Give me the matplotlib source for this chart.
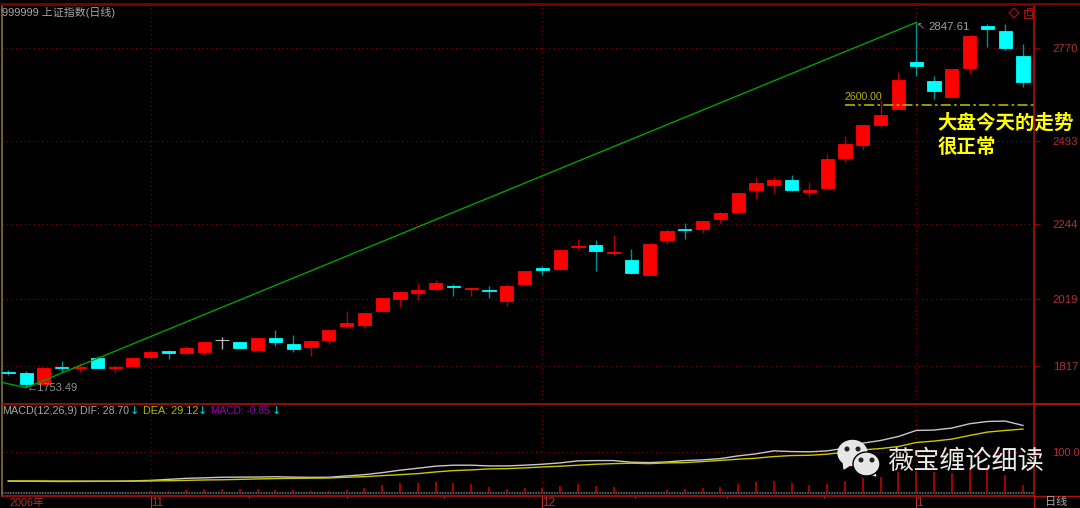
import matplotlib
matplotlib.use("Agg")
import matplotlib.pyplot as plt
from matplotlib.patches import Ellipse, Polygon, Rectangle

plt.rcParams['font.family'] = ['Liberation Sans', 'Noto Sans CJK SC', 'DejaVu Sans']

opens = [1801,1797,1763,1815,1812,1842,1812,1819,1845,1862,1857,1860,1897,1890,1867,1901,1885,1875,1895,1937,
         1940,1983,2018,2036,2050,2058,2049,2046,2012,2063,2112,2109,2175,2180,2158,2137,2090,2195,2230,2230,
         2259,2281,2345,2361,2376,2340,2353,2442,2481,2540,2589,2730,2671,2624,2712,2837,2821,2746]
closes = [1798,1764,1811,1812,1816,1813,1816,1842,1861,1858,1871,1890,1897,1873,1901,1889,1870,1892,1927,1947,
          1976,2022,2041,2046,2068,2055,2052,2043,2059,2102,2106,2167,2178,2163,2161,2098,2185,2223,2227,2252,
          2277,2336,2368,2375,2347,2346,2438,2483,2539,2569,2676,2717,2642,2708,2808,2827,2771,2669]
highs = [1806,1802,1811,1832,1826,1847,1821,1844,1863,1865,1879,1891,1905,1890,1903,1925,1912,1895,1928,1982,
         1977,2023,2044,2068,2075,2063,2053,2057,2065,2106,2118,2170,2199,2197,2210,2168,2185,2230,2247,2254,
         2279,2338,2384,2384,2390,2370,2454,2508,2540,2615,2700,2847.61,2688,2709,2810,2843,2843,2783]
lows = [1792,1754,1763,1800,1799,1812,1796,1819,1838,1840,1856,1850,1870,1872,1865,1878,1859,1848,1885,1932,
        1932,1982,1994,2017,2047,2028,2028,2022,1999,2063,2092,2107,2166,2103,2151,2094,2090,2184,2200,2218,
        2247,2279,2320,2337,2344,2325,2353,2427,2465,2532,2589,2687,2618,2623,2693,2773,2765,2655]
dif = [28.7,28.4,28.0,27.8,27.9,28.2,28.3,29.2,30.5,33.0,35.5,36.8,38.2,38.5,38.7,39.5,38.5,38.0,38.2,41.4,
       44.6,49.6,55.6,60.5,65.5,68.0,68.0,66.2,66.2,68.0,70.4,73.7,78.6,79.4,79.4,75.4,74.4,76.1,79.4,81.1,
       84.3,91.0,96.0,103.4,101.7,101.0,103.4,110.0,122.5,129.0,138.9,153.8,154.8,159.7,170.4,176.0,177.0,166.2]
dea = [29.12,29.1,29.0,28.8,28.7,28.6,28.5,28.6,29.0,29.7,30.5,31.5,32.0,33.0,34.0,35.0,35.6,36.0,36.4,38.2,
       39.7,42.2,44.6,47.1,51.3,54.6,56.3,58.8,59.5,61.3,63.7,65.5,68.0,70.4,71.9,72.9,71.9,73.7,74.4,76.9,
       79.9,82.8,85.3,89.3,91.8,92.5,95.2,100.2,105.9,109.1,114.1,124.0,127.5,132.4,141.4,149.8,153.8,157.2]
macd = [-0.85,-1,-1,-1,0.5,0.5,0.5,1,5,5,6.6,8,10,8,10,6.6,5.8,3.3,5,6.6,
        12.4,18,25,25,27,25,21,13,10,11.6,10.7,15.7,20.7,15.7,13,-1,0.5,6.6,10,11.6,
        14,22,26.5,29,25,18,22,29,35.5,40,52,54,50,48,55,55,45,18]
trend_x = [-0.354, 1, 51]
trend_y = [1769, 1753.49, 2847.61]
price_ticks = [1817, 2019, 2244, 2493, 2770]
month_pos = [8, 30, 51]
month_labels = ['11', '12', '1']
minor_pos = [13.5, 19, 24.5, 35.2, 40.4, 45.8]
support = 2600.00

BG = '#000000'
RED = '#ff0000'
CYAN = '#00ffff'
GRID = '#8a0000'
LBL = '#b03030'
GREY = '#a8a8a8'
OLIVE = '#b4b400'

fig = plt.figure(figsize=(10.8, 5.08), dpi=100, facecolor=BG)
L, R = 2/1080, 1034/1080
ax = fig.add_axes([L, (508-403.5)/508, R-L, (403.5-4)/508], facecolor=BG)
am = fig.add_axes([L, 12/508, R-L, (496-403.5)/508], facecolor=BG, sharex=ax)

n = len(opens)
xs = list(range(n))
for i in xs:
    o, c = opens[i], closes[i]
    col = '#e8e8e8' if o == c else (RED if c > o else CYAN)
    wick = '#b0b0b0' if o == c else ('#b00000' if c > o else '#009090')
    ax.vlines(i, lows[i], highs[i], color=wick, lw=1.0, zorder=3)
    ax.bar(i, abs(c-o), bottom=min(o, c), width=0.74, color=col, edgecolor=col, lw=0.6, zorder=4)

ax.plot(trend_x, trend_y, color='#00a000', lw=1.0, zorder=5)
ax.hlines(support, 47.0, 57.62, color=OLIVE, lw=1.2, linestyles=(0, (6, 2, 1.5, 2)), zorder=5)

ax.set_xlim(-0.354, 57.62)
ax.set_ylim(1706, 2903)
ax.set_yticks(price_ticks)
ax.set_yticklabels([str(v) for v in price_ticks], fontsize=8.2, color=LBL)
ax.yaxis.tick_right()
ax.tick_params(axis='y', length=4.3, width=0.8, color=GRID, pad=9.2)
ax.tick_params(axis='x', length=0, labelbottom=False)
ax.set_xticks(month_pos)
ax.grid(True, color=GRID, lw=0.8, ls=(0, (1, 3)), zorder=1)
ax.set_axisbelow(True)

ax.annotate('←1753.49', (1, 1753.49), xytext=(0.3, 0), textcoords='offset points',
            color='#909090', fontsize=8, va='center', ha='left', family=['Liberation Sans', 'DejaVu Sans'], zorder=6)
ax.annotate('↖', (51, 2847.61), xytext=(0, -3), textcoords='offset points',
            color='#909090', fontsize=7, va='center', ha='left', family='DejaVu Sans', zorder=6)
ax.annotate('2847.61', (51, 2847.61), xytext=(9, -3.5), textcoords='offset points',
            color='#a0a0a0', fontsize=8.2, va='center', ha='left', zorder=6)
ax.annotate('2600.00', (47.0, support), xytext=(0, 2), textcoords='offset points',
            color=OLIVE, fontsize=7.6, va='bottom', ha='left', zorder=6)
cjk = ['Noto Sans CJK SC', 'DejaVu Sans']
ax.text(52.2, 2547, '大盘今天的走势', color='#ffff00', fontsize=14, fontweight='bold',
        family=cjk, va='center', ha='left', zorder=7)
ax.text(52.2, 2473, '很正常', color='#ffff00', fontsize=14, fontweight='bold',
        family=cjk, va='center', ha='left', zorder=7)

# MACD panel
for i in xs:
    am.vlines(i, 0, macd[i], color='#c00000' if macd[i] > 0 else CYAN, lw=1.2, zorder=3)
am.axhline(0, color='#6a6a6a', lw=1.2, ls=(0, (1, 0.6)), zorder=2)
am.plot(xs, dif, color='#c8c8c8', lw=1.0, zorder=5)
am.plot(xs, dea, color='#c8c800', lw=1.0, zorder=5)
am.set_ylim(-8.1, 220.4)
am.set_yticks([100])
am.set_yticklabels(['100.0'], fontsize=8.0, color=LBL)
am.yaxis.tick_right()
am.tick_params(axis='y', length=4.3, width=0.8, color=GRID, pad=8.4)
am.set_xticks(month_pos)
am.set_xticklabels(month_labels, fontsize=8.4, color=LBL, ha='left')
am.set_xticks(minor_pos, minor=True)
am.tick_params(axis='x', which='major', length=8.6, width=0.9, color=LBL, direction='out', pad=-7.8)
am.tick_params(axis='x', which='minor', length=1.5, width=0.8, color=LBL)
am.grid(True, color=GRID, lw=0.8, ls=(0, (1, 3)), zorder=1)
am.set_axisbelow(True)
am.text(0.05, -0.072, '2006年', transform=am.get_xaxis_transform(), color=LBL, fontsize=7.8,
        va='center', ha='left', family=['Liberation Sans', 'Noto Sans CJK SC'], clip_on=False)

for a in (ax, am):
    for s in a.spines.values():
        s.set_color('#a81010')
        s.set_linewidth(1.2)
    a.spines['left'].set_color('#8c6a3c')
ax.spines['top'].set_linewidth(2.0)
ax.spines['top'].set_color('#800000')
ax.spines['bottom'].set_visible(False)

# pixel overlay for frame pieces, header text, watermark
ov = fig.add_axes([0, 0, 1, 1], facecolor='none')
ov.set_xlim(0, 1080); ov.set_ylim(508, 0); ov.axis('off')
ov.plot([1034, 1080], [4, 4], color='#800000', lw=1.4)
ov.plot([1034, 1080], [404, 404], color='#b01010', lw=1.4)
ov.plot([1034, 1080], [496, 496], color='#b01010', lw=1.0)
ov.plot([1034, 1034], [496, 508], color='#b01010', lw=1.0)

ov.text(2, 12.5, '999999 上证指数(日线)', color=GREY, fontsize=7.9, va='center', ha='left')
ov.text(1056, 502, '日线', color=GREY, fontsize=8, va='center', ha='center')

y0 = 411
ov.text(2, y0, 'MACD(12,26,9)', color=GREY, fontsize=7.8, va='center', ha='left')
ov.text(80, y0, 'DIF: 28.70', color=GREY, fontsize=7.6, va='center', ha='left')
ov.text(143, y0, 'DEA: 29.12', color='#b4b400', fontsize=7.8, va='center', ha='left')
ov.text(211, y0, 'MACD: -0.85', color='#a000b0', fontsize=7.3, va='center', ha='left')
for xa in (134, 202, 276.5):
    ov.text(xa, y0, '↓', color='#00d8d8', fontsize=8, va='center', ha='center', family='DejaVu Sans')

# small icons at upper right
ov.add_patch(Polygon([(1014, 8), (1019, 13), (1014, 18), (1009, 13)], fill=False, ec='#a01010', lw=0.9))
ov.add_patch(Rectangle((1024, 10), 8, 8, fill=False, ec='#a01010', lw=0.9))
ov.add_patch(Rectangle((1027, 8), 6, 7, fill=False, ec='#a01010', lw=0.7))

# watermark
W = '#e6e6e6'
ov.add_patch(Polygon([(843, 460), (844, 469), (853, 463)], color=W, zorder=8))
ov.add_patch(Ellipse((852.5, 453), 29, 25, color=W, zorder=8))
ov.add_patch(Polygon([(873, 470), (876, 476), (867, 473)], color=W, zorder=9))
ov.add_patch(Ellipse((866.5, 464), 27, 24, fc=W, ec='black', lw=1, zorder=9))
for ex, ey in [(847, 449), (858, 449), (861, 460), (872, 460)]:
    ov.add_patch(Ellipse((ex, ey), 3.6, 3.6, color='#202020', zorder=10))
ov.text(887, 461, '薇宝缠论细读', color='#ececec', fontsize=18.8, va='center', ha='left',
        family=cjk, zorder=10)

fig.savefig('out.png', dpi=100, facecolor=BG)
